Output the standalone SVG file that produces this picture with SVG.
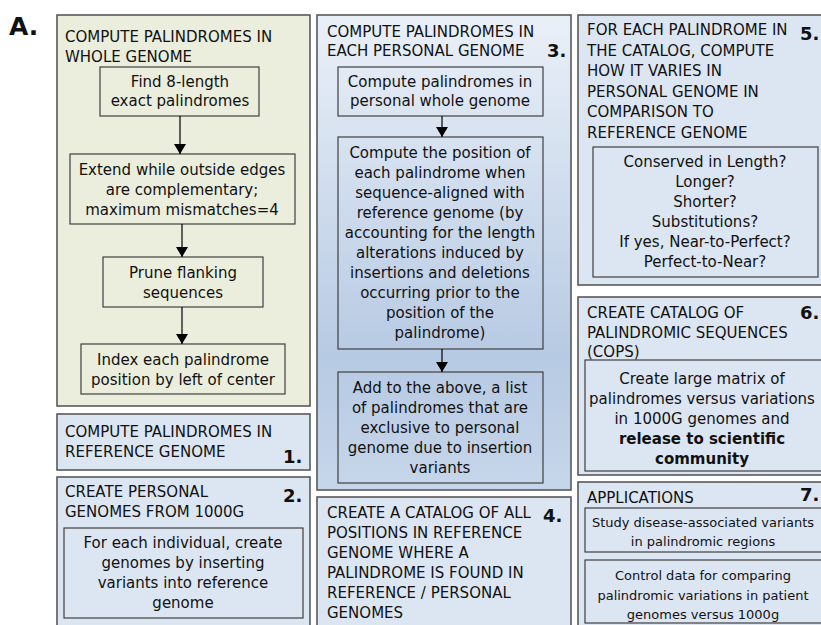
<svg xmlns="http://www.w3.org/2000/svg" width="821" height="625" viewBox="0 0 821 625">
<defs>
<linearGradient id="g3" x1="0" y1="0" x2="0" y2="1">
<stop offset="0" stop-color="#eaf0f8"/>
<stop offset="0.72" stop-color="#b7cae3"/>
<stop offset="1" stop-color="#c6d6ea"/>
</linearGradient>
<marker id="ah" viewBox="0 0 10 12" refX="10" refY="6" markerWidth="10" markerHeight="12" markerUnits="userSpaceOnUse" orient="auto">
<path d="M0,0 L10,6 L0,12 Z" fill="#000"/>
</marker>
<style>
text{font-family:"DejaVu Sans",Verdana,sans-serif;font-size:15px;fill:#111}
.c{text-anchor:middle}
.n{font-weight:bold;font-size:18px}
.s{font-size:13px}
.outer{stroke:#595959;stroke-width:1.6}
.green{fill:#ebeedc}
.blue{fill:#dce6f2}
.inner{fill:none;stroke:#404040;stroke-width:1.2}
.conn line{stroke:#000;stroke-width:1.2;marker-end:url(#ah)}
</style>
</defs>
<rect width="821" height="625" fill="#fff"/>
<text x="9" y="35" style="font-weight:bold;font-size:25px">A.</text>

<g id="whole-genome">
<rect class="outer green" x="57" y="15" width="253" height="391"/>
<text x="65" y="42">COMPUTE PALINDROMES IN</text>
<text x="65" y="62">WHOLE GENOME</text>
</g>
<g id="find8">
<rect class="inner" x="100" y="67" width="159" height="49"/>
<text class="c" x="180" y="87">Find 8-length</text>
<text class="c" x="180" y="106">exact palindromes</text>
</g>
<g id="extend">
<rect class="inner" x="70" y="154" width="225" height="70"/>
<text class="c" x="182" y="175">Extend while outside edges</text>
<text class="c" x="182" y="195">are complementary;</text>
<text class="c" x="182" y="215">maximum mismatches=4</text>
</g>
<g id="prune">
<rect class="inner" x="103" y="257" width="160" height="50"/>
<text class="c" x="183" y="278">Prune flanking</text>
<text class="c" x="183" y="298">sequences</text>
</g>
<g id="index">
<rect class="inner" x="81" y="344" width="204" height="50"/>
<text class="c" x="183" y="365">Index each palindrome</text>
<text class="c" x="183" y="385">position by left of center</text>
</g>

<g id="step1">
<rect class="outer blue" x="57" y="414" width="253" height="56"/>
<text x="65" y="437">COMPUTE PALINDROMES IN</text>
<text x="65" y="457">REFERENCE GENOME</text>
<text class="n" x="283" y="463">1.</text>
</g>

<g id="step2">
<rect class="outer blue" x="57" y="477" width="253" height="160"/>
<text x="65" y="497">CREATE PERSONAL</text>
<text x="65" y="517">GENOMES FROM 1000G</text>
<text class="n" x="283" y="502">2.</text>
</g>
<g id="step2-inner">
<rect class="inner" x="64" y="528" width="239" height="90"/>
<text class="c" x="183" y="548">For each individual, create</text>
<text class="c" x="183" y="568">genomes by inserting</text>
<text class="c" x="183" y="588">variants into reference</text>
<text class="c" x="183" y="608">genome</text>
</g>

<g id="step3">
<rect class="outer" fill="url(#g3)" x="317" y="15" width="254" height="475"/>
<text x="327" y="37">COMPUTE PALINDROMES IN</text>
<text x="327" y="56">EACH PERSONAL GENOME</text>
<text class="n" x="547" y="57">3.</text>
</g>
<g id="personal-whole">
<rect class="inner" x="338" y="67" width="205" height="49"/>
<text class="c" x="440" y="87">Compute palindromes in</text>
<text class="c" x="440" y="106">personal whole genome</text>
</g>
<g id="position">
<rect class="inner" x="338" y="137" width="205" height="212"/>
<text class="c" x="440" y="158">Compute the position of</text>
<text class="c" x="440" y="178">each palindrome when</text>
<text class="c" x="440" y="198">sequence-aligned with</text>
<text class="c" x="440" y="218">reference genome (by</text>
<text class="c" x="440" y="238">accounting for the length</text>
<text class="c" x="440" y="258">alterations induced by</text>
<text class="c" x="440" y="278">insertions and deletions</text>
<text class="c" x="440" y="298">occurring prior to the</text>
<text class="c" x="440" y="318">position of the</text>
<text class="c" x="440" y="338">palindrome)</text>
</g>
<g id="add-list">
<rect class="inner" x="338" y="372" width="205" height="111"/>
<text class="c" x="440" y="393">Add to the above, a list</text>
<text class="c" x="440" y="413">of palindromes that are</text>
<text class="c" x="440" y="433">exclusive to personal</text>
<text class="c" x="440" y="453">genome due to insertion</text>
<text class="c" x="440" y="473">variants</text>
</g>

<g id="step4">
<rect class="outer blue" x="317" y="497" width="254" height="140"/>
<text x="327" y="518">CREATE A CATALOG OF ALL</text>
<text x="327" y="538">POSITIONS IN REFERENCE</text>
<text x="327" y="558">GENOME WHERE A</text>
<text x="327" y="578">PALINDROME IS FOUND IN</text>
<text x="327" y="598">REFERENCE / PERSONAL</text>
<text x="327" y="618">GENOMES</text>
<text class="n" x="543" y="522">4.</text>
</g>

<g id="step5">
<rect class="outer blue" x="578" y="15" width="260" height="270"/>
<text x="587" y="35">FOR EACH PALINDROME IN</text>
<text x="587" y="55.5">THE CATALOG, COMPUTE</text>
<text x="587" y="76">HOW IT VARIES IN</text>
<text x="587" y="96.5">PERSONAL GENOME IN</text>
<text x="587" y="117">COMPARISON TO</text>
<text x="587" y="137.5">REFERENCE GENOME</text>
<text class="n" x="800" y="40">5.</text>
</g>
<g id="step5-inner">
<rect class="inner" x="593" y="147" width="225" height="130"/>
<text class="c" x="705" y="167">Conserved in Length?</text>
<text class="c" x="705" y="187">Longer?</text>
<text class="c" x="705" y="207">Shorter?</text>
<text class="c" x="705" y="227">Substitutions?</text>
<text class="c" x="705" y="247">If yes, Near-to-Perfect?</text>
<text class="c" x="705" y="267">Perfect-to-Near?</text>
</g>

<g id="step6">
<rect class="outer blue" x="578" y="297" width="260" height="178"/>
<text x="587" y="318">CREATE CATALOG OF</text>
<text x="587" y="338">PALINDROMIC SEQUENCES</text>
<text x="587" y="357">(COPS)</text>
<text class="n" x="800" y="319">6.</text>
</g>
<g id="step6-inner">
<rect class="inner" x="585" y="360" width="250" height="111"/>
<text class="c" x="702" y="384">Create large matrix of</text>
<text class="c" x="702" y="404">palindromes versus variations</text>
<text class="c" x="702" y="424">in 1000G genomes and</text>
<text class="c" x="702" y="444" font-weight="bold">release to scientific</text>
<text class="c" x="702" y="464" font-weight="bold">community</text>
</g>

<g id="step7">
<rect class="outer blue" x="578" y="482" width="260" height="155"/>
<text x="587" y="503">APPLICATIONS</text>
<text class="n" x="800" y="501">7.</text>
</g>
<g id="app1">
<rect class="inner" x="585" y="508" width="250" height="44"/>
<text class="c s" x="703" y="527">Study disease-associated variants</text>
<text class="c s" x="703" y="546">in palindromic regions</text>
</g>
<g id="app2">
<rect class="inner" x="585" y="560" width="250" height="63"/>
<text class="c s" x="703" y="580">Control data for comparing</text>
<text class="c s" x="703" y="600">palindromic variations in patient</text>
<text class="c s" x="703" y="619">genomes versus 1000g</text>
</g>

<g id="connectors" class="conn">
<line x1="180" y1="116" x2="180" y2="154"/>
<line x1="182" y1="224" x2="182" y2="257"/>
<line x1="182" y1="307" x2="182" y2="344"/>
<line x1="442" y1="116" x2="442" y2="137"/>
<line x1="442" y1="349" x2="442" y2="372"/>
</g>
</svg>
